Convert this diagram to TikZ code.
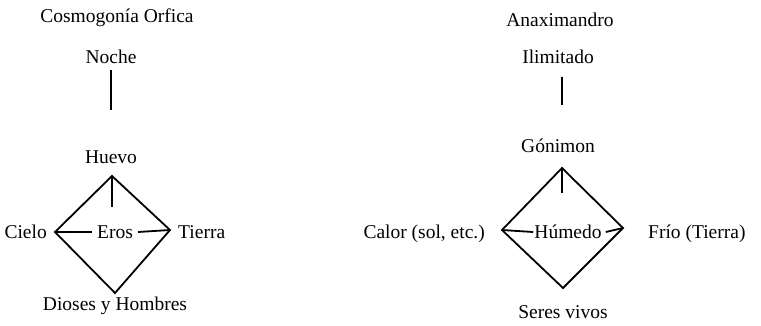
\documentclass[tikz,border=0pt]{standalone}
\usepackage{fontspec}
\setmainfont{Liberation Serif}
\usetikzlibrary{calc}
\begin{document}
\begin{tikzpicture}[x=1bp,y=-1bp,
  lbl/.style={inner xsep=2bp,inner ysep=0pt,font=\fontsize{19.5bp}{23bp}\selectfont},
  edge/.style={line width=1.8bp,line join=miter,line cap=butt}]
\useasboundingbox (0,0) rectangle (761,325);
% ---------- left: Cosmogonia Orfica ----------
\node[lbl,anchor=base] (tL) at (117,22) {Cosmogonía Orfica};
\node[lbl,anchor=base] (noche) at (111,63) {Noche};
\coordinate (n1) at (111,70);
\coordinate (n2) at (111,110);
\draw[edge] (n1) -- (n2);
\node[lbl,anchor=base] (huevo) at (111,163) {Huevo};
\coordinate (LT) at (112,176);
\coordinate (LL) at (55,232);
\coordinate (LR) at (170,230);
\coordinate (LB) at (115,293);
\coordinate (Ls) at (112,207);
\draw[edge] (LT) -- (LR) -- (LB) -- (LL) -- cycle;
\draw[edge] (LT) -- (Ls);
\node[lbl,anchor=base east] (cielo) at (49,238) {Cielo};
\node[lbl,anchor=base,inner xsep=5bp] (eros) at (115,238) {Eros};
\node[lbl,anchor=base west] (tierra) at (176,238) {Tierra};
\draw[edge] ([yshift=6bp]eros.base west) -- (LL);
\draw[edge] ([yshift=6bp]eros.base east) -- (LR);
\node[lbl,anchor=base] (dioses) at (115,310) {Dioses y Hombres};
% ---------- right: Anaximandro ----------
\node[lbl,anchor=base] (tR) at (560,26) {Anaximandro};
\node[lbl,anchor=base] (ilim) at (558,63) {Ilimitado};
\coordinate (i1) at (562,77);
\coordinate (i2) at (562,105);
\draw[edge] (i1) -- (i2);
\node[lbl,anchor=base] (gonimon) at (558,152) {Gónimon};
\coordinate (RT) at (562,168);
\coordinate (RL) at (502,230);
\coordinate (RR) at (623,228);
\coordinate (RB) at (563,288);
\coordinate (Rs) at (562,193);
\draw[edge] (RT) -- (RR) -- (RB) -- (RL) -- cycle;
\draw[edge] (RT) -- (Rs);
\node[lbl,anchor=base east] (calor) at (487,238) {Calor (sol, etc.)};
\node[lbl,anchor=base,inner xsep=1bp] (humedo) at (568,238) {Húmedo};
\node[lbl,anchor=base west] (frio) at (646,238) {Frío (Tierra)};
\draw[edge] ([yshift=6bp]humedo.base west) -- (RL);
\draw[edge] ([yshift=6bp,xshift=3bp]humedo.base east) -- (RR);
\node[lbl,anchor=base] (seres) at (563,318) {Seres vivos};
\end{tikzpicture}
\end{document}
